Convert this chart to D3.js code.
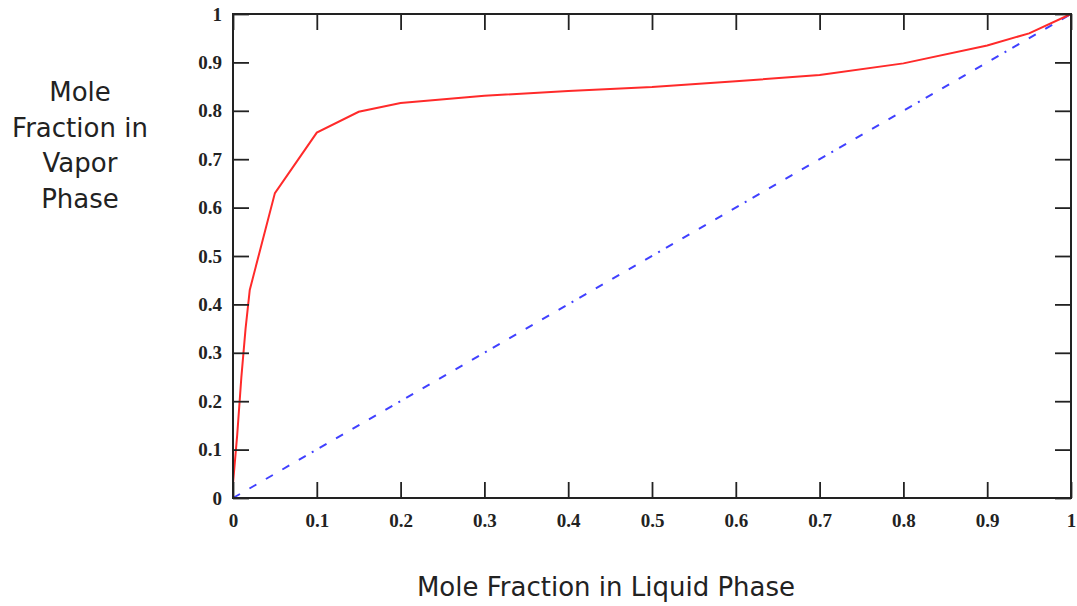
<!DOCTYPE html>
<html>
<head>
<meta charset="utf-8">
<script src="https://cdn.jsdelivr.net/npm/d3@7"></script>
<style>
  html, body { margin: 0; padding: 0; background: #fff; }
  svg { display: block; }
</style>
</head>
<body>
<svg id="chart" width="1077" height="606"></svg>
<script>
// ---- Data ----
const liquidX = [0, 0.005, 0.01, 0.015, 0.02, 0.05, 0.1, 0.15, 0.2, 0.3, 0.4, 0.5, 0.6, 0.7, 0.8, 0.9, 0.95, 1.0];
const vaporY  = [0.03, 0.13, 0.25, 0.35, 0.43, 0.63, 0.755, 0.798, 0.816, 0.831, 0.841, 0.849, 0.861, 0.874, 0.898, 0.935, 0.96, 1.0];
const diagX = [0, 1];
const diagY = [0, 1];
const xTicks = [0, 0.1, 0.2, 0.3, 0.4, 0.5, 0.6, 0.7, 0.8, 0.9, 1];
const yTicks = [0, 0.1, 0.2, 0.3, 0.4, 0.5, 0.6, 0.7, 0.8, 0.9, 1];
const xTitle = "Mole Fraction in Liquid Phase";
const yTitleLines = ["Mole", "Fraction in", "Vapor", "Phase"];

// ---- Layout ----
const pLeft = 233, pRight = 1071, pTop = 14, pBottom = 498;
const svg = d3.select("#chart");
const x = d3.scaleLinear().domain([0, 1]).range([pLeft, pRight]);
const y = d3.scaleLinear().domain([0, 1]).range([pBottom, pTop]);

const tickFont = "'Liberation Serif', serif";
const titleFont = "'DejaVu Sans', sans-serif";
const fmt = d => d === 0 ? "0" : d === 1 ? "1" : d3.format(".1f")(d);

// Lines
const line = d3.line().x(d => x(d[0])).y(d => y(d[1]));
svg.append("path")
  .datum(diagX.map((v, i) => [v, diagY[i]]))
  .attr("d", line)
  .attr("fill", "none")
  .attr("stroke", "#4040ff")
  .attr("stroke-width", 2)
  .attr("stroke-dasharray", "8,11,8,11,8,11,8,11,8,7,2,7");

svg.append("path")
  .datum(liquidX.map((v, i) => [v, vaporY[i]]))
  .attr("d", line)
  .attr("fill", "none")
  .attr("stroke", "#ff2a2a")
  .attr("stroke-width", 2);

// Axes (ticks inward on all four sides)
const tl = 16;
const axStyle = g => {
  g.select(".domain").remove();
  g.selectAll(".tick line").attr("stroke", "#222").attr("stroke-width", 1.8);
  g.selectAll(".tick text").attr("fill", "#222").attr("font-family", tickFont)
    .attr("font-size", 19).attr("font-weight", "bold");
};
svg.append("g").attr("transform", `translate(0,${pBottom})`)
  .call(d3.axisBottom(x).tickValues(xTicks).tickFormat(fmt).tickSizeInner(-tl).tickPadding(16))
  .call(axStyle);
svg.append("g").attr("transform", `translate(0,${pTop})`)
  .call(d3.axisTop(x).tickValues(xTicks).tickFormat("").tickSizeInner(-tl))
  .call(axStyle);
svg.append("g").attr("transform", `translate(${pLeft},0)`)
  .call(d3.axisLeft(y).tickValues(yTicks).tickFormat(fmt).tickSizeInner(-tl).tickPadding(11))
  .call(axStyle);
svg.append("g").attr("transform", `translate(${pRight},0)`)
  .call(d3.axisRight(y).tickValues(yTicks).tickFormat("").tickSizeInner(-tl))
  .call(axStyle);

// Frame
svg.append("rect")
  .attr("x", pLeft).attr("y", pTop)
  .attr("width", pRight - pLeft).attr("height", pBottom - pTop)
  .attr("fill", "none").attr("stroke", "#222").attr("stroke-width", 2);

// Titles
svg.append("text")
  .attr("x", 606).attr("y", 596)
  .attr("text-anchor", "middle")
  .attr("font-family", titleFont).attr("font-size", 26)
  .attr("fill", "#222")
  .text(xTitle);

svg.append("g").selectAll("text").data(yTitleLines).join("text")
  .attr("x", 80)
  .attr("y", (d, i) => 101 + i * 35.5)
  .attr("text-anchor", "middle")
  .attr("font-family", titleFont).attr("font-size", 26)
  .attr("fill", "#222")
  .text(d => d);
</script>
</body>
</html>
